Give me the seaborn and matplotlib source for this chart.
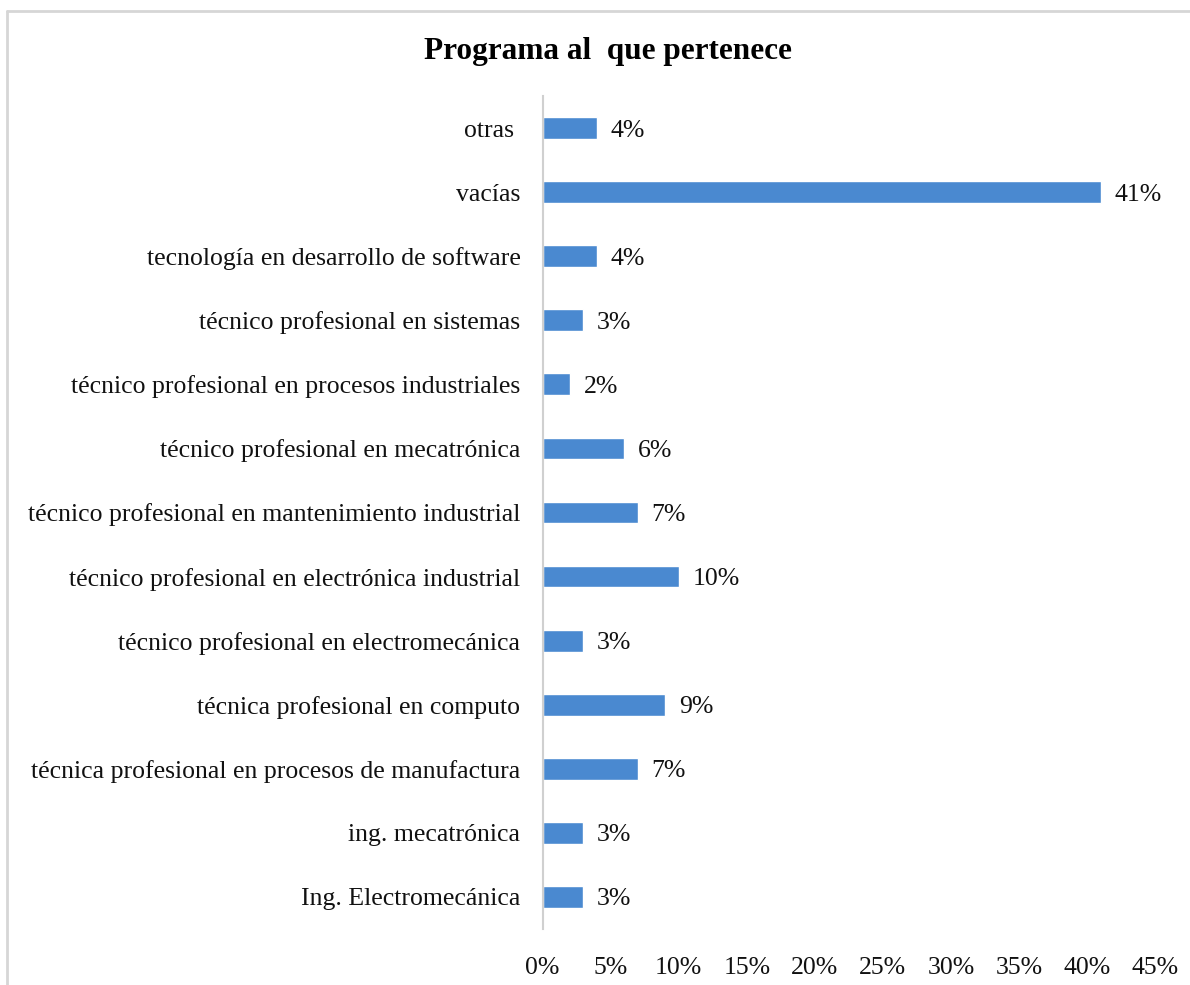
import matplotlib
matplotlib.use("Agg")
import matplotlib.pyplot as plt
import pandas as pd
import seaborn as sns
from matplotlib.lines import Line2D
from matplotlib.ticker import PercentFormatter

# Chart data (top to bottom, as shown)
programas = [
    "otras ",
    "vacías",
    "tecnología en desarrollo de software",
    "técnico profesional en sistemas",
    "técnico profesional en procesos industriales",
    "técnico profesional en mecatrónica",
    "técnico profesional en mantenimiento industrial",
    "técnico profesional en electrónica industrial",
    "técnico profesional en electromecánica",
    "técnica profesional en computo",
    "técnica profesional en procesos de manufactura",
    "ing. mecatrónica",
    "Ing. Electromecánica",
]
porcentajes = [4, 41, 4, 3, 2, 6, 7, 10, 3, 9, 7, 3, 3]
x_ticks = [0, 5, 10, 15, 20, 25, 30, 35, 40, 45]

df = pd.DataFrame({"programa": programas, "pct": porcentajes})

sns.set_theme(style="white")
plt.rcParams["font.family"] = ["Liberation Serif", "DejaVu Serif"]

fig = plt.figure(figsize=(11.9, 9.85), dpi=100)
ax = fig.add_axes([0.456, 0.0569, 0.5146, 0.8456])

sns.barplot(data=df, x="pct", y="programa", orient="h", color="#4A89D0",
            saturation=1, width=0.34, ax=ax)

for p, v in zip(ax.patches, porcentajes):
    ax.text(p.get_width() + 1.0, p.get_y() + p.get_height() / 2, f"{v}%",
            ha="left", va="center_baseline", fontsize=18.5, color="#111111")

ax.set_xlim(0, 45)
ax.set_xticks(x_ticks)
ax.xaxis.set_major_formatter(PercentFormatter(decimals=0))
ax.set_xlabel("")
ax.set_ylabel("")
ax.tick_params(axis="x", labelsize=18.5, length=0, pad=20, colors="#111111")
ax.tick_params(axis="y", labelsize=18.5, length=0, pad=16, colors="#111111")

for side in ["top", "right", "bottom"]:
    ax.spines[side].set_visible(False)
ax.spines["left"].set_color("#d0d0d0")
ax.spines["left"].set_linewidth(1.5)

fig.text(0.5105, 0.948, "Programa al  que pertenece", ha="center", va="center",
         fontsize=22.5, fontweight="bold", color="black")

# light frame around the chart area
fig.add_artist(Line2D([0.006, 0.006], [0.0, 0.989], color="#d6d6d6", lw=2))
fig.add_artist(Line2D([0.006, 1.0], [0.989, 0.989], color="#d6d6d6", lw=2))

fig.savefig("out.png", dpi=100)
